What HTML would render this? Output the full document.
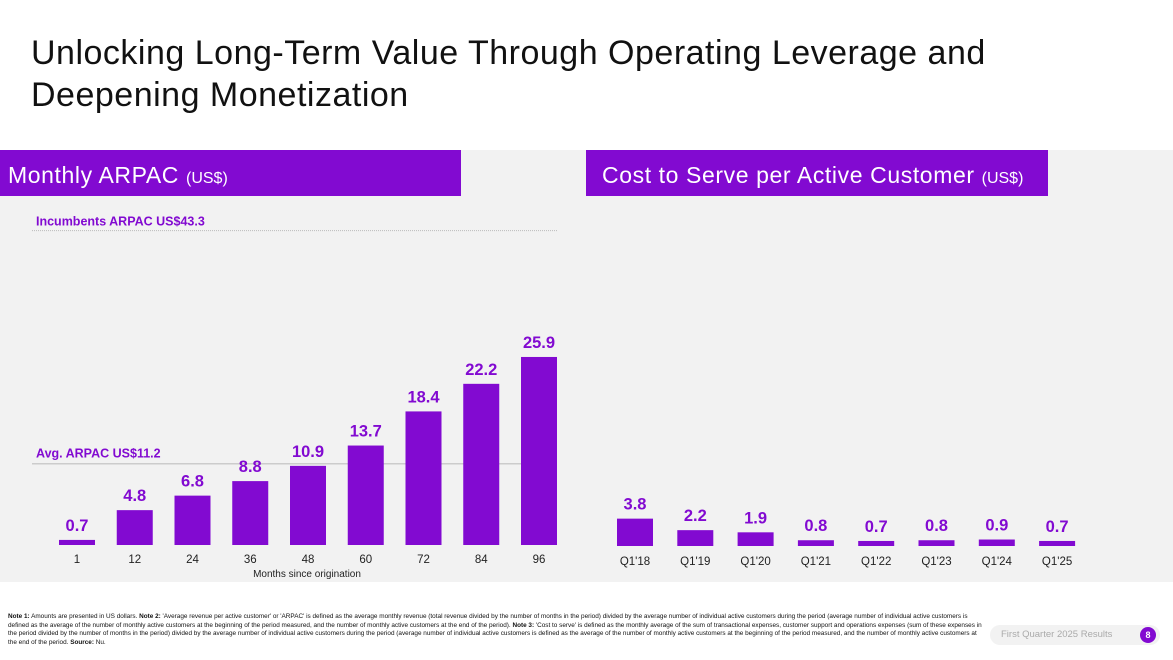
<!DOCTYPE html>
<html><head><meta charset="utf-8"><style>
body{margin:0;width:1173px;height:660px;background:#fff;font-family:"Liberation Sans",sans-serif;position:relative;overflow:hidden}
.t{position:absolute;left:31px;top:32px;font-size:34px;line-height:42px;color:#111;letter-spacing:0.5px}
.hd{position:absolute;top:150px;height:46px;background:#820ad1;color:#fff;font-size:23px;line-height:50px;box-sizing:border-box;letter-spacing:0.6px}
.hd small{font-size:16px;letter-spacing:0}
.note{position:absolute;left:8px;top:613px;width:975px;font-size:6.4px;line-height:8.6px;color:#111}
</style></head><body>
<div class="t">Unlocking Long-Term Value Through Operating Leverage and<br>Deepening Monetization</div>
<div style="position:absolute;left:0;top:150px;width:1173px;height:432px;background:#f2f2f2"></div>
<div class="hd" style="left:0;width:461px;padding-left:8px">Monthly ARPAC <small>(US$)</small></div>
<div class="hd" style="left:586px;width:462px;padding-left:16px">Cost to Serve per Active Customer <small>(US$)</small></div>
<svg id="c" width="1173" height="660" style="position:absolute;left:0;top:0"></svg>
<div class="note"><b>Note 1:</b> Amounts are presented in US dollars. <b>Note 2:</b> 'Average revenue per active customer' or 'ARPAC' is defined as the average monthly revenue (total revenue divided by the number of months in the period) divided by the average number of individual active customers during the period (average number of individual active customers is defined as the average of the number of monthly active customers at the beginning of the period measured, and the number of monthly active customers at the end of the period). <b>Note 3:</b> 'Cost to serve' is defined as the monthly average of the sum of transactional expenses, customer support and operations expenses (sum of these expenses in the period divided by the number of months in the period) divided by the average number of individual active customers during the period (average number of individual active customers is defined as the average of the number of monthly active customers at the beginning of the period measured, and the number of monthly active customers at the end of the period. <b>Source:</b> Nu.</div>
<div style="position:absolute;left:990px;top:625px;width:170px;height:20px;background:#f2f2f2;border-radius:10px;font-size:9.5px;color:#aaa;line-height:20px;padding-left:11px;box-sizing:border-box">First Quarter 2025 Results</div>
<div style="position:absolute;left:1140px;top:627px;width:16px;height:16px;border-radius:8px;background:#820ad1;color:#fff;font-size:9px;font-weight:bold;text-align:center;line-height:16px">8</div>
<script>
const arpacCats=["1","12","24","36","48","60","72","84","96"];
const arpacVals=[0.7,4.8,6.8,8.8,10.9,13.7,18.4,22.2,25.9];
const costCats=["Q1'18","Q1'19","Q1'20","Q1'21","Q1'22","Q1'23","Q1'24","Q1'25"];
const costVals=[3.8,2.2,1.9,0.8,0.7,0.8,0.9,0.7];
const avgArpac=11.2, incumbentArpac=43.3;
const svg=document.getElementById('c'),NS='http://www.w3.org/2000/svg';
function mk(t,a,txt){const e=document.createElementNS(NS,t);for(const k in a)e.setAttribute(k,a[k]);if(txt!==undefined)e.textContent=txt;svg.appendChild(e);return e;}
const yL=v=>545-v*7.26, yR=v=>546-v*7.2;
const xL=i=>77+i*57.75, xR=i=>635+i*60.3;
let l=mk('line',{x1:32,x2:557,y1:yL(incumbentArpac),y2:yL(incumbentArpac),stroke:'#bbb','stroke-width':1,'stroke-dasharray':'1,1'});

l=mk('line',{x1:32,x2:557,y1:yL(avgArpac),y2:yL(avgArpac),stroke:'#ccc','stroke-width':1.5});

let t=mk('text',{x:36,y:yL(incumbentArpac)-5,fill:'#820ad1','font-size':12.5,'font-weight':'bold'},'Incumbents ARPAC US$'+incumbentArpac);

t=mk('text',{x:36,y:yL(avgArpac)-6,fill:'#820ad1','font-size':12.5,'font-weight':'bold'},'Avg. ARPAC US$'+avgArpac);

arpacVals.forEach((v,i)=>{const x=xL(i);
 const r=mk('rect',{x:x-18,y:yL(v),width:36,height:545-yL(v),fill:'#820ad1'});
 
 const a=mk('text',{x:x,y:yL(v)-9,'text-anchor':'middle',fill:'#820ad1','font-size':16.5,'font-weight':'bold'},v.toFixed(1));
 
 const c=mk('text',{x:x,y:563,'text-anchor':'middle',fill:'#222','font-size':11.5},arpacCats[i]);
 });
t=mk('text',{x:307,y:577,'text-anchor':'middle',fill:'#222','font-size':10},'Months since origination');

costVals.forEach((v,i)=>{const x=xR(i);
 const r=mk('rect',{x:x-18,y:yR(v),width:36,height:546-yR(v),fill:'#820ad1'});
 
 const a=mk('text',{x:x,y:yR(v)-9,'text-anchor':'middle',fill:'#820ad1','font-size':16.5,'font-weight':'bold'},v.toFixed(1));
 
 const c=mk('text',{x:x,y:565,'text-anchor':'middle',fill:'#222','font-size':11.5},costCats[i]);
 });
</script>
</body></html>
